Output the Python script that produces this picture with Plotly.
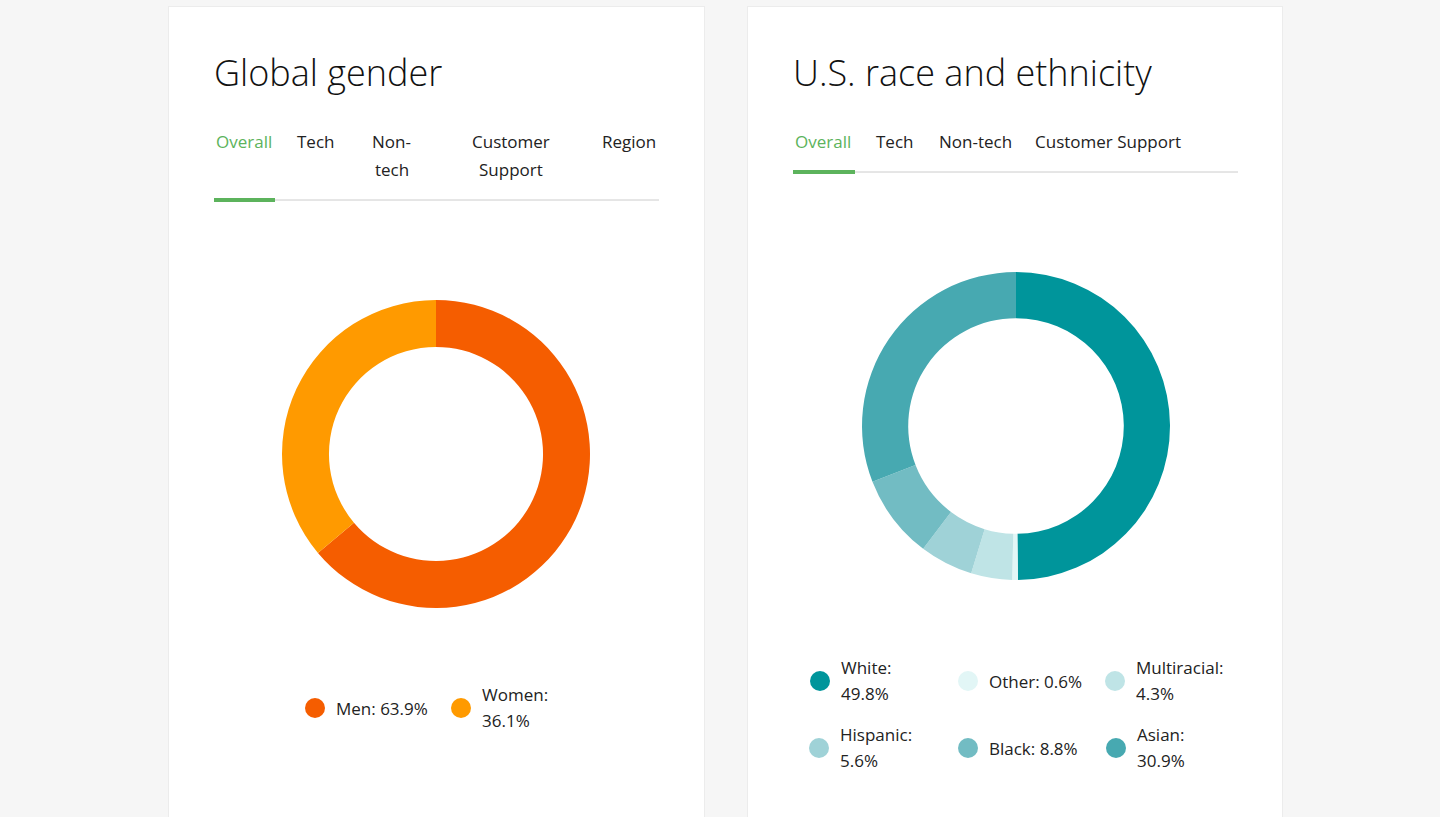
from plotly import graph_objects as go

W, H = 1440, 817

# data
gender_labels = ["Men", "Women"]
gender_values = [63.9, 36.1]
gender_colors = ["#f55d00", "#ff9a00"]

race_labels = ["White", "Other", "Multiracial", "Hispanic", "Black", "Asian"]
race_values = [49.8, 0.6, 4.3, 5.6, 8.8, 30.9]
race_colors = ["#00959b", "#e2f6f6", "#bfe4e6", "#9fd2d7", "#72bcc3", "#47a9b1"]

gender_tabs = ["Overall", "Tech", "Non-<br>tech", "Customer<br>Support", "Region"]
race_tabs = ["Overall", "Tech", "Non-tech", "Customer Support"]

FONT = "Open Sans"
TXT = "#222222"
GREEN = "#5cb35c"
BG = "#f6f6f6"


def px(x):
    return x / W


def py(y):
    return 1 - y / H


fig = go.Figure()
fig.add_pie(labels=gender_labels, values=gender_values, hole=0.695, sort=False,
            direction="clockwise", rotation=0, textinfo="none", hoverinfo="label+percent",
            marker=dict(colors=gender_colors, line=dict(width=0)),
            domain=dict(x=[px(282), px(590)], y=[py(608), py(300)]), showlegend=False)
fig.add_pie(labels=race_labels, values=race_values, hole=0.7, sort=False,
            direction="clockwise", rotation=0, textinfo="none", hoverinfo="label+percent",
            marker=dict(colors=race_colors, line=dict(width=0)),
            domain=dict(x=[px(862), px(1170)], y=[py(580), py(272)]), showlegend=False)

shapes = []
annos = []

# cards
for x0, x1 in [(169, 704), (748, 1282)]:
    shapes.append(dict(type="rect", xref="paper", yref="paper", x0=px(x0 - 1), x1=px(x1 + 1),
                       y0=py(840), y1=py(6), fillcolor="#ececec", line=dict(width=0), layer="below"))
    shapes.append(dict(type="rect", xref="paper", yref="paper", x0=px(x0), x1=px(x1),
                       y0=py(840), y1=py(7), fillcolor="#ffffff", line=dict(width=0), layer="below"))

# titles
for x, t in [(212, "Global gender"), (791, "U.S. race and ethnicity")]:
    annos.append(dict(text=t, x=px(x), y=py(72), xref="paper", yref="paper", xanchor="left",
                      yanchor="middle", showarrow=False,
                      font=dict(family=FONT, size=36, color="#111111", weight=300)))

# tabs
gender_tab_x = [244, 315, 392, 511, 629]
race_tab_x = [823, 894, 975, 1108]
for tabs, xs, y0 in [(gender_tabs, gender_tab_x, 141), (race_tabs, race_tab_x, 141)]:
    for i, (t, x) in enumerate(zip(tabs, xs)):
        lines = t.split("<br>")
        for j, ln in enumerate(lines):
            annos.append(dict(text=ln, x=px(x), y=py(y0 + 28 * j), xref="paper", yref="paper",
                              xanchor="center", yanchor="middle", showarrow=False,
                              font=dict(family=FONT, size=17, color=GREEN if i == 0 else TXT)))

# tab underlines
for x0, x1, g1, y in [(214, 659, 275, 200), (793, 1238, 855, 172)]:
    shapes.append(dict(type="line", xref="paper", yref="paper", x0=px(x0), x1=px(x1),
                       y0=py(y), y1=py(y), line=dict(color="#cccccc", width=1)))
    shapes.append(dict(type="line", xref="paper", yref="paper", x0=px(x0), x1=px(g1),
                       y0=py(y), y1=py(y), line=dict(color=GREEN, width=4)))


# legends
def legend(labels, values, colors, xs, ys):
    for k, (lab, val, col) in enumerate(zip(labels, values, colors)):
        cx, cy = xs[k], ys[k]
        shapes.append(dict(type="circle", xref="paper", yref="paper", x0=px(cx - 10), x1=px(cx + 10),
                           y0=py(cy + 10), y1=py(cy - 10), fillcolor=col, line=dict(width=0)))
        full = f"{lab}: {val}%"
        if len(full) > 11:
            rows = [(f"{lab}:", cy - 14), (f"{val}%", cy + 12)]
        else:
            rows = [(full, cy)]
        for txt, ty in rows:
            annos.append(dict(text=txt, x=px(cx + 19), y=py(ty), xref="paper", yref="paper",
                              xanchor="left", yanchor="middle", showarrow=False,
                              font=dict(family=FONT, size=17, color=TXT)))


legend(gender_labels, gender_values, gender_colors, [315, 461], [708, 708])
legend(race_labels, race_values, race_colors,
       [820, 968, 1115, 819, 968, 1116], [681, 681, 681, 748, 748, 748])

fig.update_layout(width=W, height=H, margin=dict(l=0, r=0, t=0, b=0),
                  paper_bgcolor=BG, plot_bgcolor=BG,
                  shapes=shapes, annotations=annos, showlegend=False)
fig.write_html("out.html", config=dict(displayModeBar=False),
               post_script="document.body.style.margin='0';document.body.style.background='%s';" % BG)
